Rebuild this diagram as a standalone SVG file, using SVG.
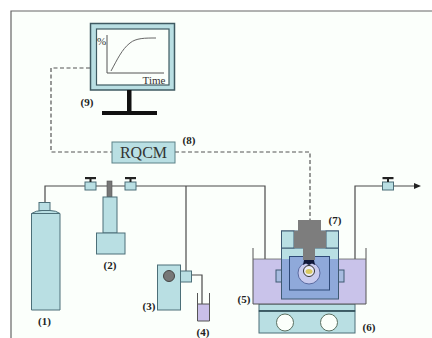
<svg xmlns="http://www.w3.org/2000/svg" width="432" height="338" viewBox="0 0 432 338">
<defs>
<style>
.lb{font-family:"Liberation Serif",serif;font-size:11px;font-weight:bold;fill:#222;text-anchor:middle}
.f{fill:#b9dfe3;stroke:#4c6f78;stroke-width:1}
.p{fill:none;stroke:#4a4a4a;stroke-width:1.2}
.d{fill:none;stroke:#555;stroke-width:1.2;stroke-dasharray:4 2.5}
</style>
<marker id="ah" markerWidth="7" markerHeight="6" refX="1" refY="3" orient="auto" markerUnits="userSpaceOnUse"><path d="M0 0L7 3L0 6z" fill="#222"/></marker>
<g id="valve"><rect x="-5.500" y="-4" width="11" height="8" class="f"/><path d="M0-4V-7" stroke="#222" stroke-width="2"/><rect x="-5.500" y="-9" width="11" height="2.200" fill="#222"/></g>
</defs>
<rect width="432" height="338" fill="#fff"/>
<path d="M11 338V11H432V338z" fill="#fbfffb"/>
<path d="M11 338V11H432" fill="none" stroke="#666" stroke-width="1.200"/>
<g id="connectors">
<path class="d" d="M90 68H51V152H112"/>
<path class="d" d="M175 152H310V221"/>
<path class="p" d="M45 202V186H265V276H276"/>
<path class="p" d="M186 186V271"/>
<path class="p" d="M191 275H202V310"/>
<path class="p" d="M343 276H355V186H415" marker-end="url(#ah)"/>
</g>
<g id="n9">
<rect x="90.500" y="23.500" width="84" height="66.500" fill="#b9dfe3" stroke="#3f5a62" stroke-width="1.500"/>
<rect x="96.500" y="29" width="72.500" height="56" fill="#fbfffb" stroke="#3f5a62" stroke-width="1.200"/>
<path d="M107 35V73H164" fill="none" stroke="#555" stroke-width="1"/>
<path d="M111 71C117 60 122 49 130 43C136 38 145 38 156 38" fill="none" stroke="#666" stroke-width="1"/>
<text x="101.500" y="45" font-family="Liberation Serif,serif" font-size="11" fill="#333" text-anchor="middle">%</text>
<text x="154" y="84" font-family="Liberation Serif,serif" font-size="11" fill="#333" text-anchor="middle">Time</text>
<rect x="127" y="90" width="4.500" height="22" fill="#111"/>
<rect x="102" y="111" width="55" height="4" fill="#111"/>
<text class="lb" x="87" y="106">(9)</text>
</g>
<g id="n8">
<rect x="112" y="142" width="63" height="21" fill="#b9dfe3" stroke="#5d8288" stroke-width="1"/>
<text x="143.500" y="158" font-family="Liberation Serif,serif" font-size="16" fill="#333" text-anchor="middle">RQCM</text>
<text class="lb" x="189" y="144">(8)</text>
</g>
<g id="v1"><use href="#valve" x="90.500" y="186"/></g>
<g id="v2"><use href="#valve" x="130.500" y="186"/></g>
<g id="v3"><use href="#valve" x="388" y="186"/></g>
<g id="n1">
<rect x="39" y="202.500" width="11" height="8" class="f"/>
<path d="M31.500 213.500Q36 210.500 42 210.500H50Q56 210.500 60 213.500V310H31.500z" class="f"/>
<path d="M31.500 213.500H60" stroke="#4c6f78" fill="none"/>
<text class="lb" x="44.500" y="325">(1)</text>
</g>
<g id="n2">
<rect x="107" y="181" width="5" height="16" fill="#777" stroke="#555" stroke-width=".6"/>
<rect x="103" y="197" width="14" height="36" class="f"/>
<rect x="96.500" y="233" width="28.500" height="21" class="f"/>
<text class="lb" x="110" y="269">(2)</text>
</g>
<g id="n3">
<rect x="157.500" y="265" width="23" height="45" class="f"/>
<circle cx="169" cy="276" r="5.500" fill="#777" stroke="#444"/>
<rect x="180.500" y="271" width="11" height="11" class="f"/>
<text class="lb" x="149" y="310">(3)</text>
</g>
<g id="n4">
<rect x="197.500" y="304" width="12" height="17" fill="#c9bfe8"/>
<path d="M197.500 293V321H209.500V293" fill="none" stroke="#555"/>
<path d="M197.500 304H209.500" stroke="#555" fill="none"/>
<text class="lb" x="203" y="336">(4)</text>
</g>
<g id="n6">
<rect x="259" y="304" width="96" height="7" fill="#b9dfe3" stroke="#4c6f78"/>
<rect x="259" y="311" width="96" height="22" fill="#b9dfe3" stroke="#4c6f78"/>
<path d="M259 311H355" stroke="#2d4a55" stroke-width="1.500"/>
<circle cx="285" cy="322.500" r="8.500" fill="#fbfffb" stroke="#5a6f60"/>
<circle cx="329" cy="322.500" r="8.500" fill="#fbfffb" stroke="#5a6f60"/>
<text class="lb" x="369" y="331">(6)</text>
</g>
<g id="n5">
<rect x="253" y="259" width="113" height="45" fill="#c9c3ea"/>
<path d="M253 248V304H366V248" fill="none" stroke="#555"/>
<path d="M253 259H366" stroke="#666" stroke-width=".8"/>
<rect x="281.500" y="248" width="57" height="11" fill="#b9dfe3"/>
<rect x="281.500" y="259" width="57" height="40" fill="#8fa9da"/>
<rect x="281.500" y="231" width="57" height="68" fill="none" stroke="#3f5a72"/>
<path d="M281.500 248H338.500" stroke="#3f5a72"/>
<rect x="281.500" y="231" width="12.500" height="17" fill="#b9dfe3" stroke="#3f5a72"/>
<rect x="326" y="231" width="12.500" height="17" fill="#b9dfe3" stroke="#3f5a72"/>
<rect x="276" y="270" width="5.500" height="12" fill="#a8bce0" stroke="#3f5a72"/>
<rect x="338.500" y="270" width="5.500" height="12" fill="#a8bce0" stroke="#3f5a72"/>
<rect x="289.500" y="256.500" width="40" height="33.500" fill="#8fa9da" stroke="#2f4a78"/>
<circle cx="309" cy="273" r="11" fill="#c9cbee" stroke="#5a6aa0"/>
<circle cx="309" cy="271" r="5.500" fill="#ececf8" stroke="#333"/>
<ellipse cx="309" cy="271.500" rx="3.500" ry="2.500" fill="#d8c860"/>
<text class="lb" x="244" y="303">(5)</text>
</g>
<g id="n7">
<path d="M298 220H321V231H326V248H315V260H303V248H294V231H298z" fill="#7d7d7d"/>
<path d="M303 265L304 260H314L315 265L312 263.500L309 265L306 263.500Z" fill="#10183a"/>
<text class="lb" x="335" y="224">(7)</text>
</g>
</svg>
